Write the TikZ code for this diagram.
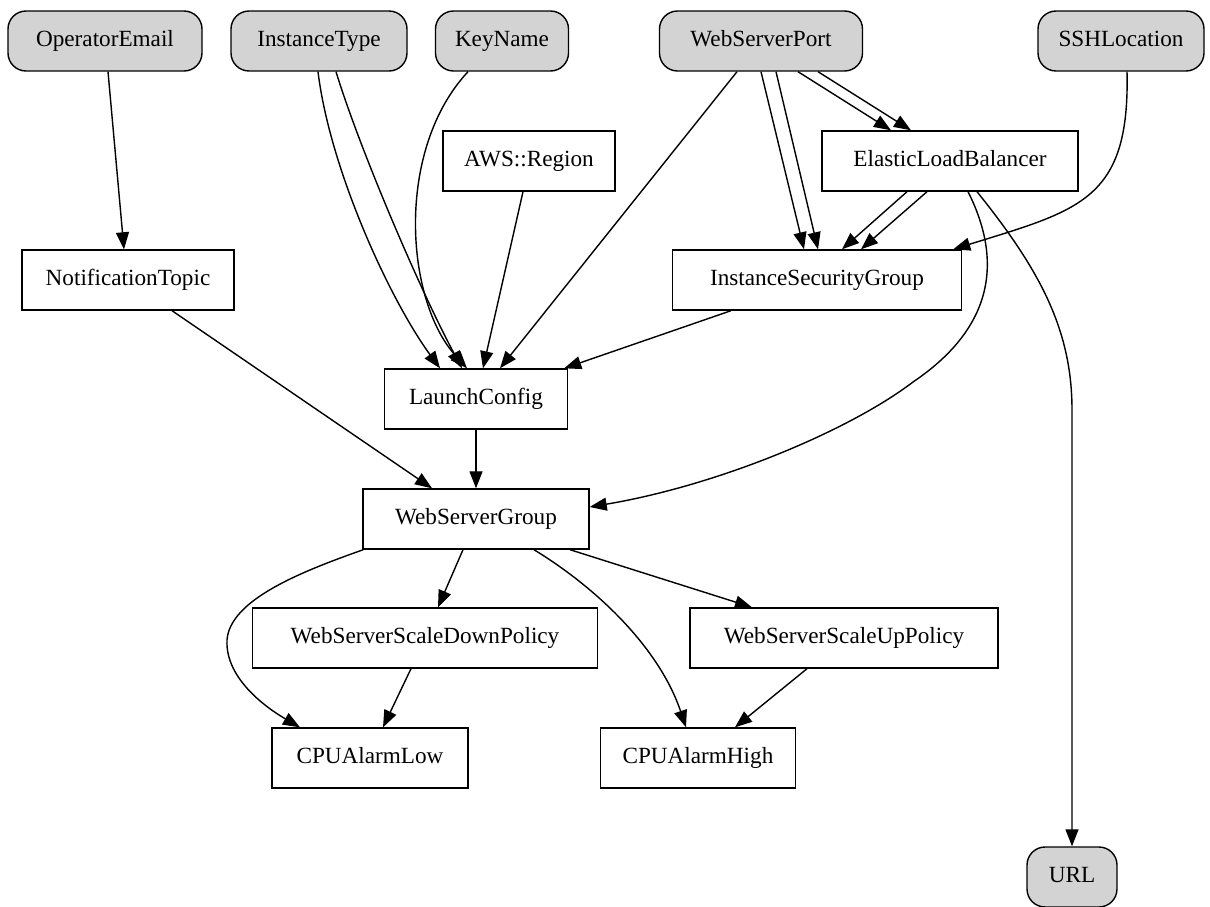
\documentclass[tikz,border=0pt]{standalone}
\usepackage{fontspec}
\setmainfont{Liberation Serif}
\usetikzlibrary{arrows.meta,calc}
\tikzset{
  box/.style={draw=black, line width=0.8pt, rectangle, minimum height=1.2cm, inner sep=0pt,
    text height=9.6pt, text depth=3.2pt,
    font=\fontsize{13.2pt}{15pt}\selectfont},
  param/.style={box, fill=lightgrayc, rounded corners=0.36cm},
  edge/.style={line width=0.8pt, -{Triangle[length=9.7pt,width=7.4pt]}}
}
\definecolor{lightgrayc}{HTML}{D3D3D3}
\begin{document}
\begin{tikzpicture}[x=0.02cm,y=-0.02cm]
\useasboundingbox (0,0) rectangle (1210,906);
% parameters
\node[param, minimum width=194*0.02cm] (oe)  at (105,41) {OperatorEmail};
\node[param, minimum width=176*0.02cm] (it)  at (319,41) {InstanceType};
\node[param, minimum width=133*0.02cm] (kn)  at (502,41) {KeyName};
\node[param, minimum width=203*0.02cm] (wsp) at (761,41) {WebServerPort};
\node[param, minimum width=166*0.02cm] (ssh) at (1121,41) {SSHLocation};
% resources
\node[box, minimum width=172*0.02cm] (aws) at (529,161) {AWS::Region};
\node[box, minimum width=256*0.02cm] (elb) at (950,161) {ElasticLoadBalancer};
\node[box, minimum width=212*0.02cm] (nt)  at (128,280) {NotificationTopic};
\node[box, minimum width=289*0.02cm] (isg) at (817,280) {InstanceSecurityGroup};
\node[box, minimum width=183*0.02cm] (lc)  at (476,399) {LaunchConfig};
\node[box, minimum width=226*0.02cm] (wsg) at (476,519) {WebServerGroup};
\node[box, minimum width=345*0.02cm] (sdp) at (425,638) {WebServerScaleDownPolicy};
\node[box, minimum width=308*0.02cm] (sup) at (844,638) {WebServerScaleUpPolicy};
\node[box, minimum width=196*0.02cm] (cal) at (370,758) {CPUAlarmLow};
\node[box, minimum width=195*0.02cm] (cah) at (698,758) {CPUAlarmHigh};
% output
\node[param, minimum width=90*0.02cm] (url) at (1072,877) {URL};
% edges
\draw[edge] ($(oe.south)+(3,0)$) -- ($(nt.north)+(-4,0)$);
\draw[edge] ($(it.south)+(-1,0)$) .. controls (330,170) and (390,300) .. ($(lc.north)+(-36,0)$);
\draw[edge] ($(it.south)+(17,0)$) .. controls (360,150) and (420,290) .. ($(lc.north)+(-14,0)$);
\draw[edge] ($(kn.south)+(-34,0)$) .. controls (395,150) and (405,300) .. ($(lc.north)+(-9,0)$);
\draw[edge] ($(aws.south)+(-6,0)$) -- ($(lc.north)+(7,0)$);
\draw[edge] ($(wsp.south)+(-24,0)$) -- ($(lc.north)+(24,0)$);
\draw[edge] ($(isg.south)+(-86,0)$) -- ($(lc.north east)+(-4,0)$);
\draw[edge] (wsp.south) -- ($(isg.north)+(-13,0)$);
\draw[edge] ($(wsp.south)+(15,0)$) -- ($(isg.north)+(1,0)$);
\draw[edge] ($(wsp.south)+(37,0)$) -- ($(elb.north)+(-59,0)$);
\draw[edge] ($(wsp.south)+(57,0)$) -- ($(elb.north)+(-39,0)$);
\draw[edge] ($(elb.south)+(-43,0)$) -- ($(isg.north)+(25,0)$);
\draw[edge] ($(elb.south)+(-23,0)$) -- ($(isg.north)+(44,0)$);
\draw[edge] ($(ssh.south)+(6,0)$) .. controls (1130,200) and (1080,210) .. ($(isg.north east)+(-9,0)$);
\draw[edge] ($(elb.south)+(18,0)$) .. controls (1005,265) and (990,330) .. (913,382)
   .. controls (850,430) and (720,485) .. ($(wsg.east)+(0,-12)$);
\draw[edge] ($(elb.south)+(27,0)$) .. controls (1040,270) and (1072,330) .. (1072,410) -- (url.north);
\draw[edge] ($(nt.south)+(44,0)$) -- ($(wsg.north)+(-44,0)$);
\draw[edge] (lc) -- (wsg);
\draw[edge] ($(wsg.south)+(-13,0)$) -- ($(sdp.north)+(13,0)$);
\draw[edge] ($(wsg.south)+(94,0)$) -- ($(sup.north)+(-92,0)$);
\draw[edge] ($(wsg.south west)+(1,0)$) .. controls (300,572) and (230,600) .. (227,640)
   .. controls (225,680) and (270,710) .. ($(cal.north)+(-70,0)$);
\draw[edge] ($(wsg.south)+(58,0)$) .. controls (600,590) and (660,650) .. ($(cah.north)+(-12,0)$);
\draw[edge] ($(sdp.south)+(-14,0)$) -- ($(cal.north)+(13,0)$);
\draw[edge] ($(sup.south)+(-37,0)$) -- ($(cah.north)+(37,0)$);
\end{tikzpicture}
\end{document}
